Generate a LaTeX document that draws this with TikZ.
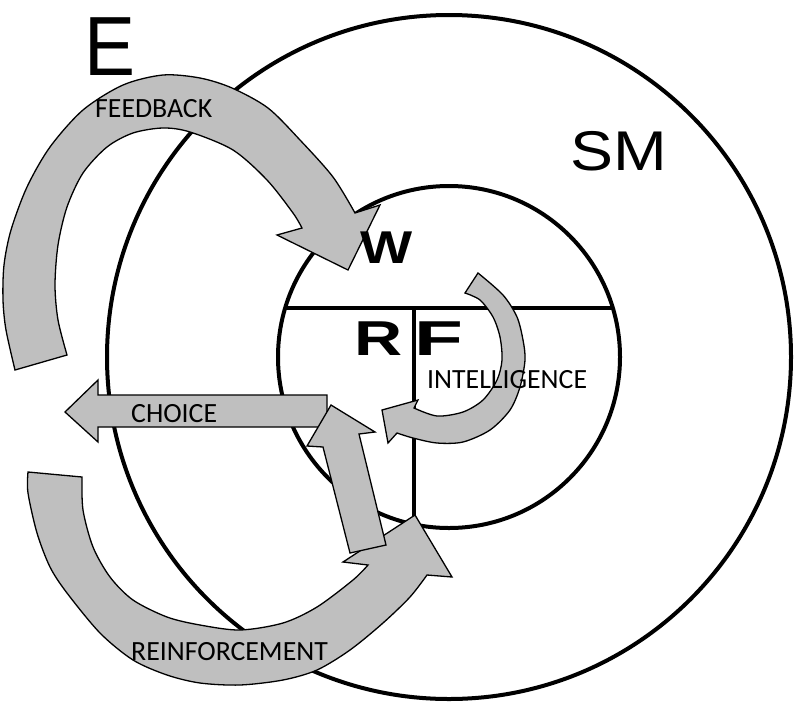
\documentclass[tikz,border=0pt]{standalone}
\usepackage{fontspec}
\setmainfont{Liberation Sans}
\newfontfamily\lblfont{Carlito}
\definecolor{arrgray}{RGB}{191,191,191}
\tikzset{
  ring/.style={draw=black,line width=4pt},
  divider/.style={draw=black,line width=3.4pt},
  bigarrow/.style={draw=black,fill=arrgray,line width=1.3pt,line join=miter},
  lbl/.style={anchor=base west,inner sep=0pt,font=\lblfont\fontsize{27.8}{27.8}\selectfont},
  letter/.style={anchor=base west,inner sep=0pt}
}
\begin{document}
\begin{tikzpicture}[x=1pt,y=-1pt]
\useasboundingbox (0,0) rectangle (794,707);
\fill[white] (0,0) rectangle (794,707);
% circles
\coordinate (c) at (449,357);
\draw[ring] (c) circle[radius=342pt];
\draw[ring] (c) circle[radius=171pt];
\coordinate (hl) at (284.5,308);
\coordinate (hr) at (612.5,308);
\coordinate (vt) at (414,308);
\coordinate (vb) at (414,524);
\draw[divider] (hl) -- (hr);
\draw[divider] (vt) -- (vb);
% FEEDBACK arrow
\draw[bigarrow] (67,355) -- (15,370) -- plot[smooth] coordinates {(15,370) (6,330) (3,300) (4,265) (11,230) (27,187) (50,147) (83,110) (123,85) (163,75) (200,78) (232,88) (268,108) (300,140) (333,177) (355,213)} -- (380,205) -- (348,270) -- (277,235) -- (302,228) -- plot[smooth] coordinates {(302,228) (293,213) (267,180) (233,150) (190,132) (163,128) (133,133) (107,147) (83,173) (67,207) (58,245) (55,285) (58,320) (67,355)} -- cycle;
% REINFORCEMENT arrow
\draw[bigarrow] (82,477) -- (28,472) -- plot[smooth] coordinates {(28,472) (28,493) (37,533) (50,567) (67,593) (100,633) (133,660) (167,675) (200,683) (240,685) (283,680) (317,670) (350,650) (383,623) (410,597) (427,575)} -- (452,577) -- (415,515) -- (343,562) -- (368,565) -- plot[smooth] coordinates {(368,565) (353,580) (317,607) (283,623) (240,630) (200,625) (167,617) (133,600) (110,577) (93,547) (83,510) (82,477)} -- cycle;
% CHOICE arrow
\draw[bigarrow] (327,395) -- (98,395) -- (98,380) -- (65,412) -- (98,442) -- (98,427) -- (327,427) -- cycle;
% upward arrow
\draw[bigarrow] (350,553) -- (323,447) -- (307,446) -- (331,405) -- (375,432) -- (359,434) -- (386,545) -- cycle;
% INTELLIGENCE arrow
\draw[bigarrow] (465,293) -- (478,273) -- plot[smooth] coordinates {(478,273) (503,295) (517,317) (523,340) (525,360) (520,387) (510,410) (490,430) (463,442) (437,443) (413,438) (397,433)} -- (388,443) -- (382,410) -- (418,400) -- (414,408) -- plot[smooth] coordinates {(414,408) (437,416) (463,412) (483,400) (497,380) (502,360) (500,337) (493,317) (480,300) (465,293)} -- cycle;
% big letters
\node[letter,font=\fontsize{84}{84}\selectfont] (E) at (84,75) {\scalebox{0.91}[1]{E}};
\node[letter,font=\fontsize{56}{56}\selectfont] (SM) at (570,170) {\scalebox{1.15}[1]{SM}};
\node[letter,font=\fontsize{46}{46}\selectfont] (W) at (360,263) {\scalebox{1.2}[1]{\textbf{W}}};
\node[letter,font=\bfseries\fontsize{49}{49}\selectfont] (R) at (354,355) {\scalebox{1.36}[1]{R}};
\node[letter,font=\bfseries\fontsize{49}{49}\selectfont] (F) at (414,355) {\scalebox{1.63}[1]{F}};
% labels
\node[lbl] (feedback) at (95,117) {FEEDBACK};
\node[lbl] (choice) at (131,422) {CHOICE};
\node[lbl] (intel) at (427,388) {INTELLIGENCE};
\node[lbl] (reinf) at (131,660) {REINFORCEMENT};
\end{tikzpicture}
\end{document}
